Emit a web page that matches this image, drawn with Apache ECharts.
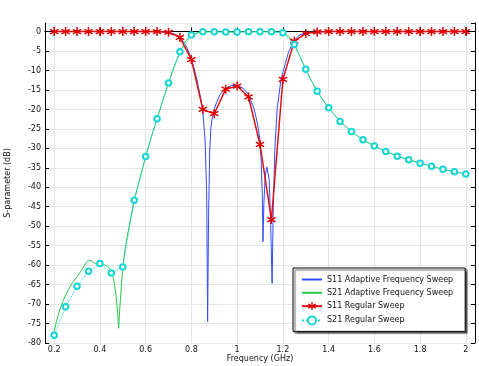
<!DOCTYPE html>
<html><head><meta charset="utf-8">
<script src="https://cdn.jsdelivr.net/npm/echarts@6/dist/echarts.min.js"></script>
<style>html,body{margin:0;padding:0;background:#fff}#c{width:479px;height:366px}</style>
</head><body><div id="c"></div>
<script>
// Axis tick labels
const xTicks = [0.2,0.4,0.6,0.8,1.0,1.2,1.4,1.6,1.8,2.0];

// Regular sweep frequencies (GHz)
const regFreq = [0.2,0.25,0.3,0.35,0.4,0.45,0.5,0.55,0.6,0.65,0.7,0.75,0.8,0.85,0.9,0.95,1.0,1.05,1.1,1.15,1.2,1.25,1.3,1.35,1.4,1.45,1.5,1.55,1.6,1.65,1.7,1.75,1.8,1.85,1.9,1.95,2.0];
const s11Regular = [0,0,0,0,0,0,0,0,0,0,-0.2,-1.5,-7.2,-20.0,-21.1,-14.8,-14.0,-16.8,-29.0,-48.3,-12.3,-2.45,-0.5,-0.1,0,0,0,0,0,0,0,0,0,0,0,0,0];
const s21Regular = [-78,-70.7,-65.4,-61.6,-59.6,-62,-60.5,-43.3,-32.1,-22.4,-13.2,-5.2,-0.9,-0.05,-0.05,-0.1,-0.1,-0.05,-0.05,-0.05,-0.3,-3.3,-9.7,-15.3,-19.6,-23.1,-25.7,-27.8,-29.4,-30.8,-32.0,-32.9,-33.8,-34.6,-35.4,-36.0,-36.6];

// Adaptive sweep (frequency, dB) pairs
const s11AdaptiveFreq = [0.2,0.3,0.4,0.5,0.6,0.65,0.7,0.725,0.75,0.775,0.8,0.825,0.84,0.85,0.86,0.867,0.871,0.875,0.88,0.885,0.89,0.9,0.91,0.925,0.95,0.975,1.0,1.025,1.05,1.075,1.09,1.1,1.105,1.11,1.113,1.117,1.123,1.13,1.135,1.14,1.146,1.153,1.158,1.165,1.175,1.19,1.2,1.225,1.25,1.275,1.3,1.35,1.4,1.6,1.8,2.0];
const s11AdaptiveVal = [0,0,0,0,0,-0.05,-0.2,-0.6,-1.4,-3.5,-6.8,-12.5,-17,-20.5,-28,-42,-74.5,-48,-31,-25,-22.5,-20,-18.2,-16.2,-14.5,-13.9,-13.8,-14.5,-16.2,-20,-24,-28,-33,-42,-54,-44,-37,-34.8,-35,-38,-48,-64.7,-45,-30,-20,-13,-10.5,-5.2,-2.2,-0.8,-0.3,-0.1,0,0,0,0];
const s21AdaptiveFreq = [0.2,0.21,0.22,0.24,0.26,0.28,0.3,0.32,0.34,0.35,0.36,0.38,0.4,0.42,0.44,0.45,0.46,0.47,0.478,0.482,0.487,0.495,0.505,0.52,0.55,0.575,0.6,0.625,0.65,0.675,0.7,0.725,0.75,0.775,0.8,0.825,0.85,0.9,0.95,1.0,1.05,1.1,1.15,1.175,1.2,1.225,1.25,1.275,1.3,1.325,1.35,1.375,1.4,1.45,1.5,1.55,1.6,1.65,1.7,1.75,1.8,1.85,1.9,1.95,2.0];
const s21AdaptiveVal = [-77,-74.5,-72.3,-69,-66.5,-64.5,-63,-61.3,-59.3,-58.8,-58.8,-59.6,-60,-59.9,-60.6,-61.6,-63.5,-67.5,-72.5,-76.2,-71,-64.5,-58,-52.5,-43.3,-37.8,-32.1,-27,-22.4,-17.7,-13.2,-8.9,-5.2,-2.4,-0.9,-0.3,-0.1,-0.05,-0.1,-0.1,-0.05,-0.05,-0.05,-0.1,-0.3,-1.3,-3.3,-6.4,-9.7,-12.7,-15.3,-17.6,-19.6,-23.1,-25.7,-27.8,-29.4,-30.8,-32.0,-32.9,-33.8,-34.6,-35.4,-36.0,-36.6];

const seriesNames = ['S11 Adaptive Frequency Sweep','S21 Adaptive Frequency Sweep','S11 Regular Sweep','S21 Regular Sweep'];

const zip = (a, b) => a.map((x, i) => [x, b[i]]);
const starPath = 'path://M1.506,6.712L17.094,15.712L18.494,13.288L2.906,4.288Z M1.506,13.288L2.906,15.712L18.494,6.712L17.094,4.288Z M8.6,1L8.6,19L11.4,19L11.4,1Z';

const font = 'DejaVu Sans';
const chart = echarts.init(document.getElementById('c'), null, {renderer: 'canvas'});
const axisLine = {show: true, lineStyle: {color: '#000', width: 1}};
const tickStyle = {show: true, inside: true, length: 4, lineStyle: {color: '#000'}};
const hiddenSym = {color: 'rgba(0,0,0,0)', borderWidth: 0, opacity: 0};
chart.setOption({
  animation: false,
  backgroundColor: '#fff',
  textStyle: {fontFamily: font},
  grid: {left: 45, right: 4, top: 23, bottom: 23, containLabel: false, outerBoundsMode: 'none'},
  legend: {
    orient: 'vertical', left: 293, top: 268,
    itemWidth: 20, itemHeight: 10, itemGap: 5.3, itemTextGap: 4,
    padding: [7.5, 12, 6, 8],
    backgroundColor: '#fff', borderColor: '#000', borderWidth: 1,
    shadowColor: 'rgba(0,0,0,0.6)', shadowBlur: 1, shadowOffsetX: 2, shadowOffsetY: 2,
    textStyle: {fontFamily: font, fontSize: 8, color: '#111'},
    data: [
      {name: seriesNames[0], itemStyle: hiddenSym},
      {name: seriesNames[1], itemStyle: hiddenSym},
      {name: seriesNames[2]},
      {name: seriesNames[3]}
    ]
  },
  xAxis: [{
    type: 'value', min: 0.16, max: 2.04,
    name: 'Frequency (GHz)', nameLocation: 'middle', nameGap: 12, nameMoveOverlap: false,
    nameTextStyle: {fontFamily: font, fontSize: 8, color: '#111', verticalAlign: 'top'},
    axisLine: axisLine,
    axisTick: Object.assign({customValues: xTicks}, tickStyle),
    axisLabel: {fontFamily: font, fontSize: 8, color: '#111', margin: 3, customValues: xTicks,
      formatter: v => String(+(+v).toFixed(1))},
    splitLine: {show: true, lineStyle: {color: '#e6e6e6', width: 1}}
  }, {
    type: 'value', position: 'top', min: 0.16, max: 2.04,
    axisLine: axisLine,
    axisTick: Object.assign({customValues: xTicks}, tickStyle),
    axisLabel: {show: false}, splitLine: {show: false}
  }],
  yAxis: [{
    type: 'value', min: -80, max: 2.2, interval: 5,
    name: 'S-parameter (dB)', nameLocation: 'middle', nameGap: 33.5, nameRotate: 90,
    nameTextStyle: {fontFamily: font, fontSize: 8, color: '#111'},
    axisLine: axisLine, axisTick: tickStyle,
    axisLabel: {fontFamily: font, fontSize: 8, color: '#111', margin: 4, showMaxLabel: false},
    splitLine: {show: true, lineStyle: {color: '#e6e6e6', width: 1}}
  }, {
    type: 'value', position: 'right', min: -80, max: 2.2, interval: 5,
    axisLine: axisLine, axisTick: tickStyle,
    axisLabel: {show: false}, splitLine: {show: false}
  }],
  series: [
    {name: seriesNames[0], type: 'line', data: zip(s11AdaptiveFreq, s11AdaptiveVal), showSymbol: false, symbol: 'none',
     lineStyle: {color: '#2f4dff', width: 1}, itemStyle: {color: '#2f4dff'}},
    {name: seriesNames[1], type: 'line', data: zip(s21AdaptiveFreq, s21AdaptiveVal), showSymbol: false, symbol: 'none',
     lineStyle: {color: '#2ec84a', width: 1}, itemStyle: {color: '#2ec84a'}},
    {name: seriesNames[2], type: 'line', data: zip(regFreq, s11Regular), symbol: starPath, symbolSize: 9,
     lineStyle: {color: '#e01010', width: 1.5}, itemStyle: {color: '#e00000'}},
    {name: seriesNames[3], type: 'line', data: zip(regFreq, s21Regular), symbol: 'emptyCircle', symbolSize: 5.5,
     lineStyle: {color: '#19d6d6', width: 1, type: 'dotted'}, itemStyle: {color: '#19d6d6', borderWidth: 1.2}}
  ]
});
</script></body></html>
